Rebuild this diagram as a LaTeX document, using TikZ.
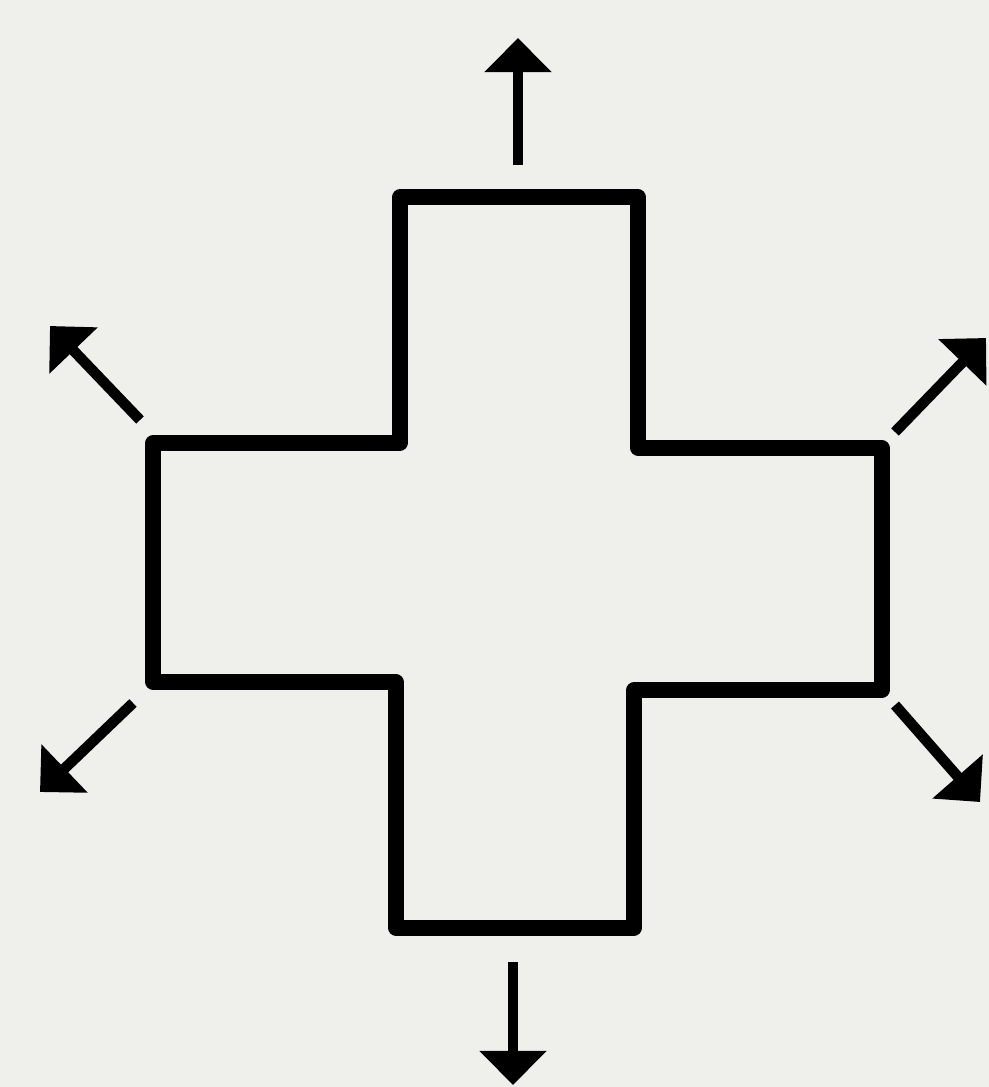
\documentclass[tikz,border=0pt]{standalone}
\usetikzlibrary{arrows.meta}
\definecolor{paper}{RGB}{239,239,235}
\begin{document}
\begin{tikzpicture}[x=.01cm,y=-.01cm,line width=4.3pt,
  outarrow/.style={line width=3pt,-{Triangle[width=6.5mm,length=3.4mm]}}]
\useasboundingbox (0,0) rectangle (989,1087);
\fill[paper] (0,0) rectangle (989,1087);
% cross outline
\draw[line join=round] (400,197)--(638,197)--(638,448)--(882,448)--(882,690)--(634,690)--(634,928)
  --(396,928)--(396,682)--(153,682)--(153,443)--(400,443)--cycle;
% arrow ends
\coordinate (nS) at (518,165); \coordinate (nE) at (518,38);
\coordinate (nwS) at (140,420); \coordinate (nwE) at (50,326);
\coordinate (neS) at (895,432); \coordinate (neE) at (986,338);
\coordinate (swS) at (133,703); \coordinate (swE) at (40,792);
\coordinate (seS) at (895,705); \coordinate (seE) at (980,802);
\coordinate (sS) at (513,962); \coordinate (sE) at (513,1085);
\draw[outarrow] (nS)--(nE);
\draw[outarrow] (nwS)--(nwE);
\draw[outarrow] (neS)--(neE);
\draw[outarrow] (swS)--(swE);
\draw[outarrow] (seS)--(seE);
\draw[outarrow] (sS)--(sE);
\end{tikzpicture}
\end{document}
